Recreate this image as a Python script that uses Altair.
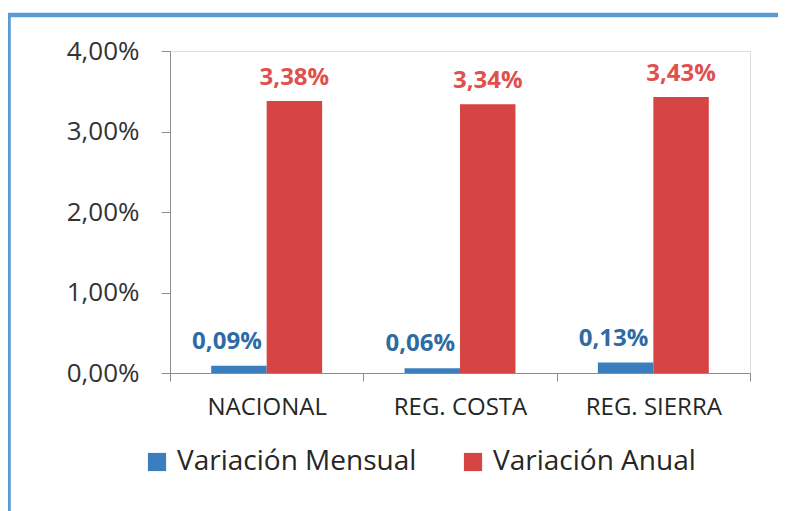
import altair as alt
import pandas as pd

categories = ["NACIONAL", "REG. COSTA", "REG. SIERRA"]
series = ["Variación Mensual", "Variación Anual"]
mensual = [0.09, 0.06, 0.13]
anual = [3.38, 3.34, 3.43]
y_ticks = [0, 1, 2, 3, 4]

rows = []
for c, m, a in zip(categories, mensual, anual):
    rows.append({"cat": c, "series": series[0], "value": m})
    rows.append({"cat": c, "series": series[1], "value": a})
df = pd.DataFrame(rows)

FONT = "Open Sans"
BAR_BLUE = "#3B7EC0"
BAR_RED = "#D64543"
TXT_BLUE = "#2F6BA3"
TXT_RED = "#E0504E"
GRAY = "#8C8C8C"

label_expr = "replace(format(datum.value, '.2f'), '.', ',') + '%'"

base = alt.Chart(df).encode(
    x=alt.X(
        "cat:N",
        sort=categories,
        scale=alt.Scale(paddingInner=0, paddingOuter=0),
        axis=alt.Axis(
            title=None, labelAngle=0, tickBand="extent", grid=False,
            domainColor=GRAY, tickColor=GRAY, tickSize=8, labelPadding=14,
            labelFont=FONT, labelFontSize=24, labelColor="#262626",
        ),
    ),
    xOffset=alt.XOffset(
        "series:N", sort=series,
        scale=alt.Scale(paddingOuter=0.743, paddingInner=0),
    ),
    y=alt.Y(
        "value:Q",
        scale=alt.Scale(domain=[0, 4], nice=False),
        axis=alt.Axis(
            title=None, values=y_ticks, grid=False,
            labelExpr="replace(format(datum.value, '.2f'), '.', ',') + '%'",
            domainColor=GRAY, tickColor=GRAY, tickSize=9, labelPadding=22,
            labelFont=FONT, labelFontSize=26, labelColor="#333333",
        ),
    ),
)

bars = base.mark_bar().encode(
    color=alt.Color(
        "series:N", sort=series,
        scale=alt.Scale(domain=series, range=[BAR_BLUE, BAR_RED]),
        legend=alt.Legend(
            title=None, orient="none", direction="horizontal",
            legendX=-27, legendY=397, symbolType="square", symbolSize=330,
            symbolStrokeWidth=0, labelFont=FONT, labelFontSize=28,
            labelColor="#262626", labelOffset=6, columnPadding=42,
            labelLimit=500,
        ),
    )
)

txt_blue = base.transform_filter(alt.datum.series == series[0]).transform_calculate(
    label=label_expr
).mark_text(
    font=FONT, fontSize=24, fontWeight="bold", color=TXT_BLUE,
    baseline="bottom", dy=-12, dx=-12,
).encode(text="label:N")

txt_red = base.transform_filter(alt.datum.series == series[1]).transform_calculate(
    label=label_expr
).mark_text(
    font=FONT, fontSize=24, fontWeight="bold", color=TXT_RED,
    baseline="bottom", dy=-11,
).encode(text="label:N")

frame = alt.Chart(pd.DataFrame({"f": [0]})).mark_rect(
    fill=None, stroke="#5B9BD5", strokeWidth=4.5
).encode(
    x=alt.value(-161.5), x2=alt.value(640),
    y=alt.value(-36), y2=alt.value(500),
)

chart = alt.layer(frame, bars, txt_blue, txt_red).properties(
    width=580, height=322,
    autosize=alt.AutoSizeParams(type="none"),
    padding={"left": 162, "top": 43, "right": 28, "bottom": 138},
).configure_view(stroke=None).configure(background="white")

chart.save("out.html", embed_options={"renderer": "svg", "actions": False})
